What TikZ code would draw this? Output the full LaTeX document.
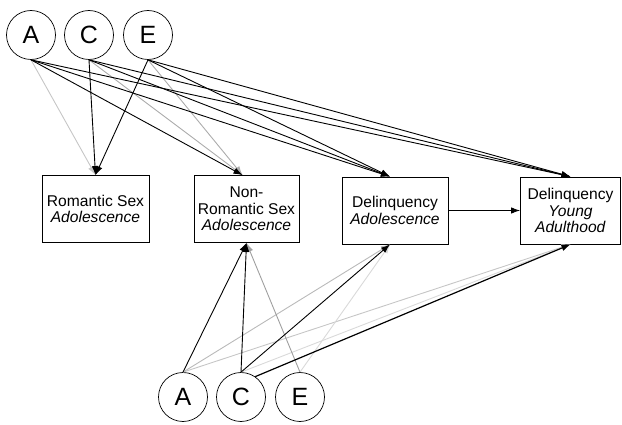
\documentclass[tikz,border=0pt]{standalone}
\usepackage{fontspec}
\setmainfont{Liberation Sans}
\usetikzlibrary{positioning, arrows.meta}

\begin{document}
\begin{tikzpicture}[x=1pt, y=-1pt,
  ace/.style={draw, circle, minimum size=49pt, inner sep=0pt, line width=0.7pt, font=\fontsize{25}{25}\selectfont},
  phenbox/.style={draw, rectangle, minimum height=67pt, align=center, inner sep=2pt, line width=0.8pt, font=\fontsize{15.6}{16.5}\selectfont},
  arr/.style={-{Latex[length=9pt,width=6.5pt]}, line width=0.9pt},
]
\useasboundingbox (0,0) rectangle (622,425);

% Latent factors
\node[ace] (A1) at (31,35) {A};
\node[ace] (C1) at (89,35) {C};
\node[ace] (E1) at (148,35) {E};
\node[ace] (A2) at (183,397) {A};
\node[ace] (C2) at (241,397) {C};
\node[ace] (E2) at (300,397) {E};

% Phenotypes
\node[phenbox, minimum width=107pt] (rom) at (95.5,209) {Romantic Sex\\\textit{Adolescence}};
\node[phenbox, minimum width=105pt] (nonrom) at (246.5,209) {Non-\\Romantic Sex\\\textit{Adolescence}};
\node[phenbox, minimum width=106pt] (delado) at (395,210.5) {Delinquency\\\textit{Adolescence}};
\node[phenbox, minimum width=100pt] (delya) at (570.5,210.5) {Delinquency\\\textit{Young}\\\textit{Adulthood}};

% Upper ACE paths (weak ones first)
\draw[arr, gray!45] (A1.south) -- (rom.north);
\draw[arr, gray!65] (C1.south) -- ([xshift=-4pt]nonrom.north);
\draw[arr, gray!65] (E1.south) -- ([xshift=-4pt]nonrom.north);
\draw[arr] (A1.south) -- ([xshift=-4pt]nonrom.north);
\draw[arr] (A1.south) -- ([xshift=-5pt]delado.north);
\draw[arr] (A1.south) -- (delya.north);
\draw[arr] (C1.south) -- (rom.north);
\draw[arr] (C1.south) -- ([xshift=-5pt]delado.north);
\draw[arr] (C1.south) -- (delya.north);
\draw[arr] (E1.south) -- (rom.north);
\draw[arr] (E1.south) -- ([xshift=-5pt]delado.north);
\draw[arr] (E1.south) -- (delya.north);

% Lower ACE paths (weak ones first)
\draw[arr, gray!55] (A2.north) -- ([xshift=-5pt]delado.south);
\draw[arr, gray!45] (A2.north) -- (delya.south);
\draw[arr, gray!30] (C2.north) -- (delya.south);
\draw[arr, gray!30] (E2.north) -- ([xshift=-5pt]delado.south);
\draw[arr, gray!75] (E2.north) -- (nonrom.south);
\draw[arr] (C2.north) -- ([xshift=-5pt]delado.south);
\draw[arr] (A2.north) -- (nonrom.south);
\draw[arr] (C2.north) -- (nonrom.south);
\draw[arr, line width=1.2pt] (C2.55) -- (delya.south);

% Stability
\draw[arr] (delado.east) -- (delya.west);

\end{tikzpicture}
\end{document}
